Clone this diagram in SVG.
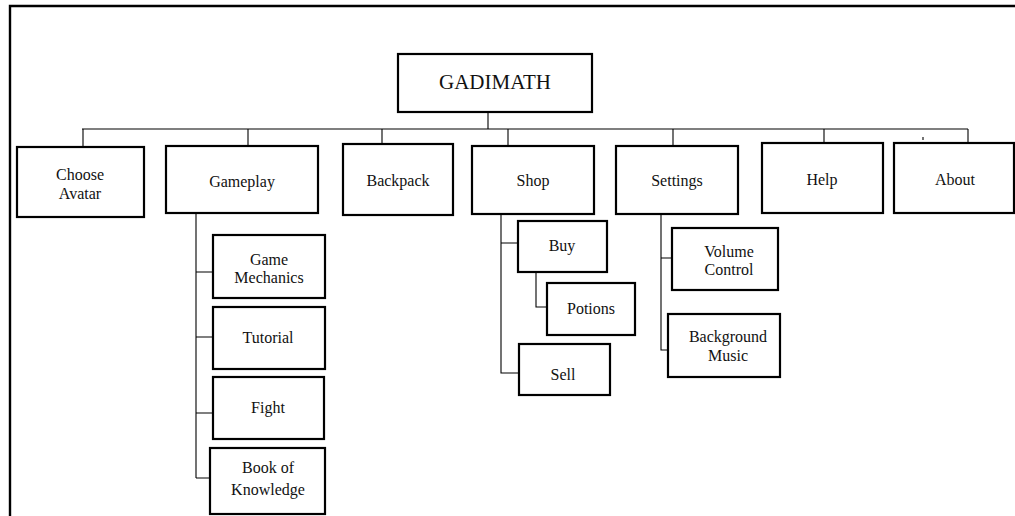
<svg xmlns="http://www.w3.org/2000/svg" width="1015" height="516" viewBox="0 0 1015 516">
<style>
.box{fill:#fff;stroke:#000;stroke-width:2.2}
.ln{fill:none;stroke:#000;stroke-width:1.1}
.border{fill:none;stroke:#000;stroke-width:2.4}
.t{font-family:'Liberation Serif','Times New Roman',Tinos,'DejaVu Serif',serif;font-size:16px;fill:#111;text-anchor:middle}
.title{font-size:21px}
</style>
<rect width="1015" height="516" fill="#fff"/>
<path class="border" d="M10,516 V6 H1015"/>
<g id="connectors">
<path class="ln" d="M488,112 V129 M82,129 H968 M83,129 V147 M248,129 V146 M382,129 V144 M508,129 V146 M673,129 V146 M824,129 V143 M968,129 V143"/>
<path class="ln" d="M923,137 V140"/>
<path class="ln" d="M196,213 V478 M196,272 H213 M196,337 H213 M196,413 H213 M196,478 H210"/>
<path class="ln" d="M501,214 V373 H519 M501,243 H518 M536,272 V307 H547"/>
<path class="ln" d="M661,214 V350 H668 M661,258 H672"/>
</g>
<g id="gadimath"><rect class="box" x="398" y="54" width="194" height="58"/><text class="t title" x="495" y="89">GADIMATH</text></g>
<g id="choose-avatar"><rect class="box" x="17" y="147" width="127" height="70"/><text class="t" x="80" y="180">Choose</text><text class="t" x="80" y="199">Avatar</text></g>
<g id="gameplay"><rect class="box" x="166" y="146" width="152" height="67"/><text class="t" x="242" y="187">Gameplay</text></g>
<g id="backpack"><rect class="box" x="343" y="144" width="110" height="71"/><text class="t" x="398" y="186">Backpack</text></g>
<g id="shop"><rect class="box" x="472" y="146" width="122" height="68"/><text class="t" x="533" y="186">Shop</text></g>
<g id="settings"><rect class="box" x="616" y="146" width="122" height="68"/><text class="t" x="677" y="186">Settings</text></g>
<g id="help"><rect class="box" x="762" y="143" width="121" height="70"/><text class="t" x="822" y="185">Help</text></g>
<g id="about"><rect class="box" x="894" y="143" width="120" height="70"/><text class="t" x="955" y="185">About</text></g>
<g id="game-mechanics"><rect class="box" x="213" y="235" width="112" height="63"/><text class="t" x="269" y="265">Game</text><text class="t" x="269" y="283">Mechanics</text></g>
<g id="tutorial"><rect class="box" x="213" y="307" width="112" height="62"/><text class="t" x="268" y="343">Tutorial</text></g>
<g id="fight"><rect class="box" x="213" y="377" width="111" height="62"/><text class="t" x="268" y="413">Fight</text></g>
<g id="book-of-knowledge"><rect class="box" x="210" y="448" width="115" height="66"/><text class="t" x="268" y="473">Book of</text><text class="t" x="268" y="495">Knowledge</text></g>
<g id="buy"><rect class="box" x="518" y="221" width="89" height="51"/><text class="t" x="562" y="251">Buy</text></g>
<g id="potions"><rect class="box" x="547" y="283" width="88" height="52"/><text class="t" x="591" y="314">Potions</text></g>
<g id="sell"><rect class="box" x="519" y="344" width="91" height="51"/><text class="t" x="563" y="380">Sell</text></g>
<g id="volume-control"><rect class="box" x="672" y="228" width="106" height="62"/><text class="t" x="729" y="257">Volume</text><text class="t" x="729" y="275">Control</text></g>
<g id="background-music"><rect class="box" x="668" y="314" width="112" height="63"/><text class="t" x="728" y="342">Background</text><text class="t" x="728" y="361">Music</text></g>
</svg>
